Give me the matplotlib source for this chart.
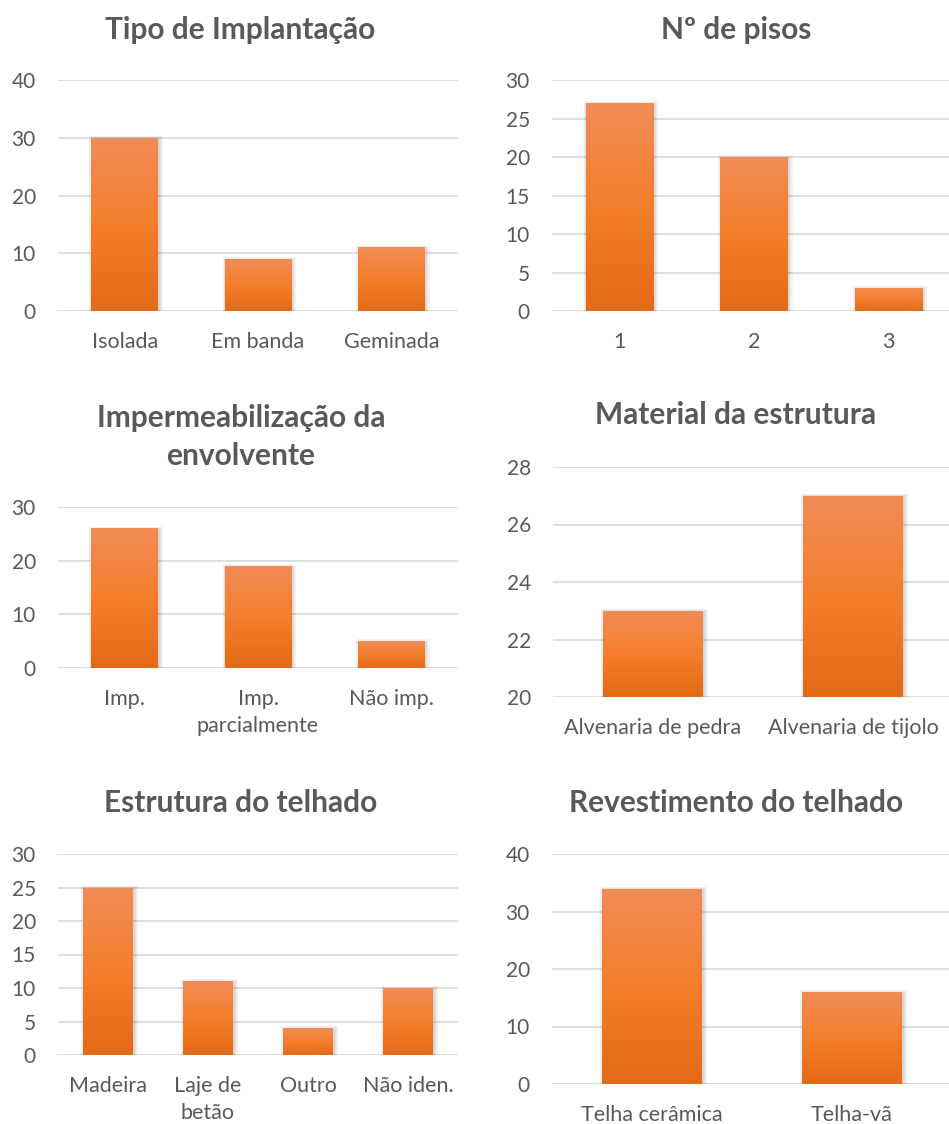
import matplotlib
matplotlib.use("Agg")
import matplotlib.pyplot as plt
import matplotlib.patheffects as pe
import numpy as np
from matplotlib.colors import LinearSegmentedColormap

plt.rcParams['font.family'] = ['Lato', 'DejaVu Sans']

# dados dos inquéritos
tipo_labels = ['Isolada', 'Em banda', 'Geminada']
tipo_vals = [30, 9, 11]

pisos_labels = ['1', '2', '3']
pisos_vals = [27, 20, 3]

imperm_labels = ['Imp.', 'Imp.\nparcialmente', 'Não imp.']
imperm_vals = [26, 19, 5]

material_labels = ['Alvenaria de pedra', 'Alvenaria de tijolo']
material_vals = [23, 27]

estrutura_labels = ['Madeira', 'Laje de\nbetão', 'Outro', 'Não iden.']
estrutura_vals = [25, 11, 4, 10]

revest_labels = ['Telha cerâmica', 'Telha-vã']
revest_vals = [34, 16]

W, H = 949, 1124
TXT = '#595959'
GRID = '#D9D9D9'
laranja = LinearSegmentedColormap.from_list(
    'laranja', ['#E36A16', '#F47E2C', '#F08C56'])


def eixo(fig, left, right, top, bottom):
    """cria eixo a partir de coordenadas em pixeis"""
    return fig.add_axes([left / W, 1 - bottom / H, (right - left) / W, (bottom - top) / H])


def grafico(ax, labels, vals, ticks, titulo, tx, ty, linhas=1.2):
    x = np.arange(len(vals))
    y0, y1 = ticks[0], ticks[-1]
    ax.set_xlim(-0.5, len(vals) - 0.5)
    ax.set_ylim(y0, y1)
    ax.set_yticks(ticks)
    ax.yaxis.grid(True, color=GRID, linewidth=1.2, zorder=0)
    ax.set_axisbelow(True)
    for s in ax.spines.values():
        s.set_visible(False)
    ax.tick_params(axis='y', length=0, pad=16, labelsize=15, labelcolor=TXT)
    ax.tick_params(axis='x', length=0, pad=15, labelsize=15.5, labelcolor=TXT)
    ax.set_xticks(x)
    ax.set_xticklabels(labels, linespacing=1.42)

    bars = ax.bar(x, vals, width=0.5, color='#F47E2C', zorder=2,
                  path_effects=[pe.Stroke(offset=(0.8, -0.8), linewidth=5, foreground='k', alpha=0.05),
                                pe.Stroke(offset=(0.5, -0.5), linewidth=2.5, foreground='k', alpha=0.08),
                                pe.Normal()])
    grad = np.linspace(0, 1, 256).reshape(-1, 1)
    for b in bars:
        bx = b.get_x()
        im = ax.imshow(grad, cmap=laranja, origin='lower', aspect='auto',
                       extent=[bx, bx + b.get_width(), max(0, y0), b.get_height()], zorder=3)
        im.set_clip_path(b)
    ax.set_xlim(-0.5, len(vals) - 0.5)
    ax.set_ylim(y0, y1)

    ax.figure.text(tx / W, 1 - ty / H, titulo, ha='center', va='center',
                   fontsize=21.5, fontweight='bold', color=TXT, linespacing=linhas)


fig = plt.figure(figsize=(W / 100, H / 100), dpi=100)

ax1 = eixo(fig, 58, 458, 80, 311)
grafico(ax1, tipo_labels, tipo_vals, [0, 10, 20, 30, 40], 'Tipo de Implantação', 240, 30)

ax2 = eixo(fig, 552, 956, 80, 311)
grafico(ax2, pisos_labels, pisos_vals, [0, 5, 10, 15, 20, 25, 30], 'Nº de pisos', 736, 30)

ax3 = eixo(fig, 58, 458, 507, 668)
grafico(ax3, imperm_labels, imperm_vals, [0, 10, 20, 30],
        'Impermeabilização da\nenvolvente', 241, 437, linhas=1.42)

ax4 = eixo(fig, 553, 953, 467, 697)
grafico(ax4, material_labels, material_vals, [20, 22, 24, 26, 28], 'Material da estrutura', 736, 415)

ax5 = eixo(fig, 58, 458, 854, 1055)
grafico(ax5, estrutura_labels, estrutura_vals, [0, 5, 10, 15, 20, 25, 30], 'Estrutura do telhado', 241, 803)

ax6 = eixo(fig, 552, 952, 854, 1084)
grafico(ax6, revest_labels, revest_vals, [0, 10, 20, 30, 40], 'Revestimento do telhado', 736, 803)

fig.savefig('out.png', dpi=100, facecolor='white')
